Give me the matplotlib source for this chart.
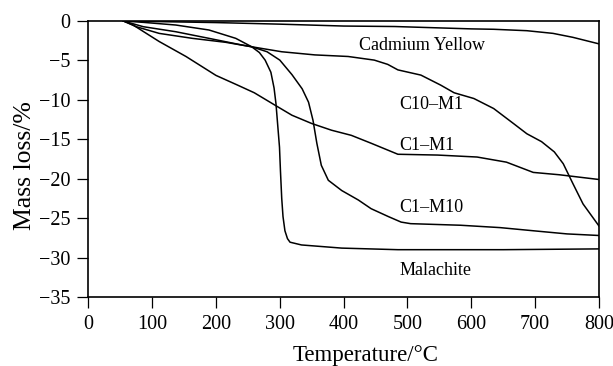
import matplotlib
matplotlib.use("Agg")
import matplotlib.pyplot as plt

plt.rcParams['font.family'] = ['Liberation Serif', 'DejaVu Serif']

# Data (temperature °C, mass loss %)
mal_T = [55, 86, 137, 189, 231, 256, 268, 277, 286, 291, 294, 297, 299.5, 301, 303, 305, 308, 312, 316, 334, 397, 485, 650, 800]
mal_y = [0, -0.17, -0.51, -1.14, -2.2, -3.27, -4.0, -4.96, -6.5, -8.5, -10.5, -13.5, -16.0, -19.0, -22.5, -24.8, -26.6, -27.6, -28.05, -28.4, -28.8, -29.0, -29.0, -28.9]

c1m10_T = [55, 86, 137, 189, 241, 256, 280, 300, 319, 335, 345, 352, 358, 365, 376, 397, 423, 443, 470, 490, 505, 583, 645, 697, 750, 800]
c1m10_y = [0, -0.72, -1.36, -2.2, -3.05, -3.27, -3.9, -4.96, -6.8, -8.6, -10.3, -12.6, -15.5, -18.3, -20.2, -21.5, -22.7, -23.8, -24.8, -25.5, -25.7, -25.9, -26.2, -26.6, -27.0, -27.2]

c1m1_T = [55, 70, 111, 153, 200, 233, 260, 293, 319, 350, 381, 412, 443, 485, 547, 609, 655, 697, 738, 800]
c1m1_y = [0, -0.5, -2.6, -4.5, -6.9, -8.1, -9.1, -10.7, -11.95, -13.0, -13.85, -14.5, -15.5, -16.9, -17.0, -17.25, -17.9, -19.2, -19.5, -20.1]

c10m1_T = [55, 75, 111, 163, 215, 256, 303, 355, 407, 448, 469, 485, 521, 552, 573, 604, 635, 666, 687, 710, 730, 744, 759, 775, 800]
c10m1_y = [0, -0.72, -1.57, -2.2, -2.7, -3.27, -3.9, -4.3, -4.5, -4.96, -5.5, -6.2, -6.86, -8.13, -9.1, -9.83, -11.1, -13.0, -14.3, -15.3, -16.6, -18.1, -20.6, -23.2, -26.0]

cy_T = [55, 200, 300, 400, 480, 600, 635, 687, 728, 759, 800]
cy_y = [0, -0.2, -0.4, -0.64, -0.7, -1.0, -1.05, -1.23, -1.57, -2.07, -2.9]

label_names = ["Cadmium Yellow", "C10\u2013M1", "C1\u2013M1", "C1\u2013M10", "Malachite"]
label_x = [424, 487, 487, 487, 487]
label_y = [-3.05, -10.55, -15.85, -23.7, -31.65]

x_ticks = [0, 100, 200, 300, 400, 500, 600, 700, 800]
y_ticks = [0, -5, -10, -15, -20, -25, -30, -35]

fig = plt.figure(figsize=(6.13, 3.66), dpi=100)
ax = fig.add_axes([88.3 / 613, 1 - 297 / 366, (599 - 88.3) / 613, 276 / 366])

for T, y in [(mal_T, mal_y), (c1m10_T, c1m10_y), (c1m1_T, c1m1_y), (c10m1_T, c10m1_y), (cy_T, cy_y)]:
    ax.plot(T, y, color='black', lw=1.1, solid_joinstyle='round')

for name, lx, ly in zip(label_names, label_x, label_y):
    ax.text(lx, ly, name, fontsize=13, ha='left', va='center')

ax.set_xlim(0, 800)
ax.set_ylim(-35, 0)
ax.set_xticks(x_ticks)
ax.set_yticks(y_ticks)
ax.tick_params(direction='out', length=8, width=0.9, labelsize=14.5, pad=5)
for s in ax.spines.values():
    s.set_linewidth(1.2)

ax.set_xlabel("Temperature/\u00b0C", fontsize=16.5)
ax.set_ylabel("Mass loss/%", fontsize=18.5)
ax.xaxis.set_label_coords(0.542, -0.175)
ax.yaxis.set_label_coords(-0.103, 0.478)

fig.savefig("out.png", dpi=100)
